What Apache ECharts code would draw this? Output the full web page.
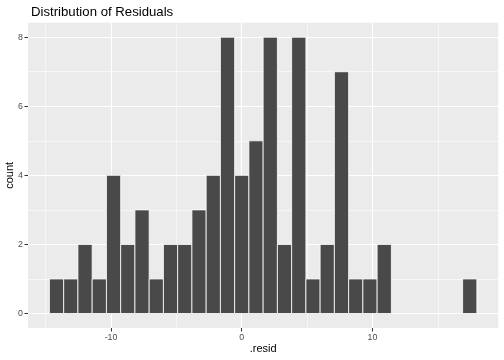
<!DOCTYPE html>
<html>
<head>
<meta charset="utf-8">
<script src="https://cdn.jsdelivr.net/npm/echarts@6/dist/echarts.min.js"></script>
<style>
html,body{margin:0;padding:0;background:#fff;}
#chart{width:504px;height:360px;}
</style>
</head>
<body>
<div id="chart"></div>
<script>
// Histogram data (30 bins)
const binStart = -14.71;
const binWidth = 1.09;
const counts = [1,1,2,1,4,2,3,1,2,2,3,4,8,4,5,8,2,8,1,2,7,1,1,2,0,0,0,0,0,1];
const xTicks = [-10, 0, 10];
const xMinorGrid = [-15, -5, 5, 15];
const yTicks = [0, 2, 4, 6, 8];
const yMinorGrid = [1, 3, 5, 7];
const titleText = 'Distribution of Residuals';
const xName = '.resid';
const yName = 'count';

const bins = counts.map((c, i) => [binStart + i * binWidth, binStart + (i + 1) * binWidth, c]);

const xMin = -16.35, xMax = 19.63;
const yMin = -0.42, yMax = 8.42;

const chart = echarts.init(document.getElementById('chart'), null, {renderer: 'canvas'});
const fontFam = '"Liberation Sans", Arial, Helvetica, sans-serif';

const majorStyle = {color: '#FFFFFF', width: 1.1, type: 'solid'};
const minorStyle = {color: '#FFFFFF', width: 0.55, type: 'solid'};
const gridMarks = []
  .concat(xMinorGrid.map(v => ({xAxis: v, lineStyle: minorStyle})))
  .concat(yMinorGrid.map(v => ({yAxis: v, lineStyle: minorStyle})))
  .concat(xTicks.map(v => ({xAxis: v, lineStyle: majorStyle})))
  .concat(yTicks.map(v => ({yAxis: v, lineStyle: majorStyle})));

chart.setOption({
  animation: false,
  backgroundColor: '#ffffff',
  title: {
    text: titleText,
    left: 26,
    top: 1,
    textStyle: {fontFamily: fontFam, fontSize: 13.2, fontWeight: 'normal', color: '#000000'}
  },
  grid: {left: 28, right: 5.7, top: 22.7, bottom: 32, show: true, backgroundColor: '#EBEBEB', borderWidth: 0,
         containLabel: false, outerBoundsMode: 'none'},
  xAxis: {
    type: 'value', min: xMin, max: xMax,
    name: xName, nameLocation: 'middle', nameGap: 15, nameMoveOverlap: false,
    nameTextStyle: {fontFamily: fontFam, fontSize: 11, color: '#000000'},
    axisLine: {show: false, onZero: false},
    axisTick: {show: true, length: 3.5, customValues: xTicks, lineStyle: {color: '#333333', width: 1}},
    axisLabel: {fontFamily: fontFam, fontSize: 8.8, color: '#4D4D4D', margin: 5, customValues: xTicks},
    splitLine: {show: false}
  },
  yAxis: {
    type: 'value', min: yMin, max: yMax,
    name: yName, nameLocation: 'middle', nameGap: 13, nameRotate: 90, nameMoveOverlap: false,
    nameTextStyle: {fontFamily: fontFam, fontSize: 11, color: '#000000'},
    axisLine: {show: false, onZero: false},
    axisTick: {show: true, length: 3.5, customValues: yTicks, lineStyle: {color: '#333333', width: 1}},
    axisLabel: {fontFamily: fontFam, fontSize: 8.8, color: '#4D4D4D', margin: 5, customValues: yTicks},
    splitLine: {show: false}
  },
  series: [{
    type: 'line',
    data: [],
    z: 1,
    silent: true,
    markLine: {
      silent: true,
      z: 1,
      symbol: ['none', 'none'],
      label: {show: false},
      emphasis: {disabled: true},
      animation: false,
      data: gridMarks
    }
  }, {
    type: 'custom',
    z: 3,
    data: bins,
    encode: {x: [0, 1], y: 2},
    renderItem: function (params, api) {
      const p0 = api.coord([api.value(0), api.value(2)]);
      const p1 = api.coord([api.value(1), 0]);
      return {
        type: 'rect',
        shape: {x: p0[0], y: p0[1], width: p1[0] - p0[0], height: p1[1] - p0[1]},
        style: {fill: '#494949', stroke: '#FFFFFF', lineWidth: 0.8}
      };
    }
  }]
});
</script>
</body>
</html>
